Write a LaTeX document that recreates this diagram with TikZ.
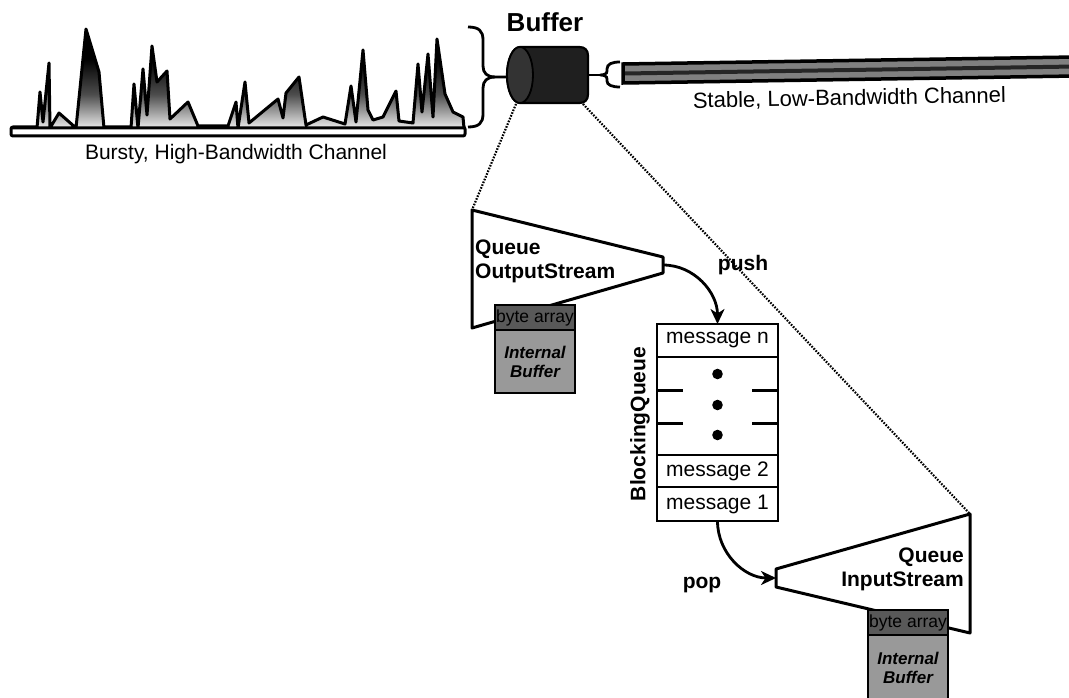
\documentclass[tikz,border=0pt]{standalone}
\usepackage{fontspec}
\setmainfont{Liberation Sans}
\usetikzlibrary{arrows.meta}
\pgfdeclareverticalshading{burst}{100bp}{color(0bp)=(black!8); color(25bp)=(black!8); color(42bp)=(black!70); color(60bp)=(black); color(100bp)=(black)}

\begin{document}
\begin{tikzpicture}[x=1pt,y=1pt,yscale=-1,xscale=1,
	outl/.style={line width=3pt, line join=round},
	dotline/.style={line width=2.2pt, dash pattern=on 1.6pt off 1.4pt},
	flow/.style={line width=2.8pt, -{Stealth[length=15pt,width=14pt,inset=4.5pt]}},
	txt/.style={inner sep=0pt, outer sep=0pt, font=\fontsize{21}{24}\selectfont},
	btxt/.style={inner sep=0pt, font=\fontsize{21}{24}\selectfont\bfseries},
	cell/.style={txt, draw, line width=2.8pt, minimum width=121pt, minimum height=33pt},
	arr/.style={fill=black!65, draw=black, line width=2.6pt, inner sep=0pt, outer sep=0pt, minimum width=80pt, minimum height=25pt, font=\fontsize{17.5}{19}\selectfont},
	buf/.style={fill=black!40, draw=black, line width=2.6pt, inner sep=0pt, outer sep=0pt, minimum width=80pt, align=center, font=\fontsize{17}{19}\selectfont\bfseries\itshape}]
	\useasboundingbox (0,0) rectangle (1069,698);
	\clip (0,0) rectangle (1069,698);
	
	%Shape: Bursty channel base
	\draw[outl, rounded corners=2pt] (11,127) rectangle (465,136);
	%Shape: Bursty channel traffic
	\draw[outl, shade, shading=burst] (12,128) -- (37,128) -- (40,92) -- (43,122) -- (49,63) -- (50,128) -- (59,113) -- (76,128) -- (86,29) -- (99,72) -- (104,128) -- (131,128) -- (134,84) -- (138,128) -- (143,69) -- (147,115) -- (152,46) -- (157,82) -- (167,71) -- (170,119) -- (188,102) -- (198,126) -- (228,126) -- (236,102) -- (238,128) -- (245,82) -- (249,123) -- (278,99) -- (283,118) -- (286,93) -- (299,77) -- (306,125) -- (323,117) -- (345,124) -- (351,86) -- (356,122) -- (363,50) -- (368,110) -- (373,120) -- (383,117) -- (396,91) -- (399,121) -- (413,123) -- (418,64) -- (422,112) -- (428,54) -- (433,117) -- (437,39) -- (445,94) -- (453,112) -- (463,117) -- (464,128) -- cycle;
	
	%Shape: Brace into buffer
	\draw[line width=2.8pt] (468,27) .. controls (479,27) and (483,31) .. (483,40) -- (483,66) .. controls (483,73) and (487,77) .. (495,77) -- (508,77);
	\draw[line width=2.8pt] (495,77) .. controls (487,77) and (483,81) .. (483,88) -- (483,114) .. controls (483,123) and (479,127) .. (468,127);
	
	%Shape: Buffer cylinder
	\filldraw[fill=black!88, line width=2.2pt] (520,47) -- (579,47) .. controls (585,47) and (588,50) .. (588,56) -- (588,94) .. controls (588,100) and (585,103) .. (579,103) -- (520,103) arc[start angle=90, end angle=270, x radius=13, y radius=28] -- cycle;
	\draw[fill=black!80, line width=1.8pt] (520,75) ellipse [x radius=13, y radius=28];
	\coordinate (cylbl) at (516,104);
	\coordinate (cylbr) at (583,104);
	
	%Shape: Brace out of buffer
	\draw[line width=2.8pt] (588,75) -- (600,75);
	\draw[line width=2.8pt] (620,62) .. controls (612,62) and (607,64) .. (607,69) -- (607,71) .. controls (607,74) and (604,75) .. (600,75) .. controls (604,75) and (607,76) .. (607,79) -- (607,81) .. controls (607,85) and (612,87) .. (620,87);
	
	%Shape: Stable channel
	\filldraw[fill=black!50, line width=3.5pt] (623,64) -- (1075,57) -- (1075,76) -- (623,83) -- cycle;
	\draw[black!85, line width=4pt] (625,73.5) -- (1075,66.5);
	
	% Text Node
	\node[btxt, font=\fontsize{26}{30}\selectfont\bfseries] (buflabel) at (545,22) {Buffer};
	% Text Node
	\node[txt] (burstylabel) at (236,154) {Bursty, High-Bandwidth Channel};
	% Text Node
	\node[txt, rotate=1, anchor=east, font=\fontsize{22}{25}\selectfont] (stablelabel) at (1006,96) {Stable, Low-Bandwidth Channel};
	
	%Straight Lines: zoom onto the buffer
	\coordinate (ostl) at (472,210);
	\coordinate (istr) at (970,514);
	\draw[dotline] (cylbl) -- (ostl);
	\draw[dotline] (cylbr) -- (istr);
	
	%Shape: QueueOutputStream
	\draw[outl, fill=white] (ostl) -- (663,257) -- (663,273) -- (472,328) -- cycle;
	\coordinate (ostip) at (663,265);
	% Text Node
	\node[btxt, anchor=west, align=left] (oslabel) at (475,261) {Queue\\OutputStream};
	\node[arr] (osba) at (535,317.5) {byte array};
	\node[buf, minimum height=63pt, anchor=north] (osib) at (osba.south) {Internal\\Buffer};
	
	%Shape: BlockingQueue
	\node[cell] (msgn) at (717.5,340.5) {message n};
	\node[cell, minimum height=98pt] (qgap) at (717.5,406) {};
	\node[cell, minimum height=32pt] (msg2) at (717.5,471) {message 2};
	\node[cell, minimum height=34pt] (msg1) at (717.5,504) {message 1};
	\foreach \y in {374,405,435} {
		\fill (717.5,\y) circle (5.3);
	}
	\foreach \y in {390,423} {
		\draw[outl] (657,\y) -- (683,\y);
		\draw[outl] (752,\y) -- (778,\y);
	}
	% Text Node
	\node[btxt, rotate=90] (bqlabel) at (640,424) {BlockingQueue};
	
	%Shape: QueueInputStream
	\draw[outl, fill=white] (776,569) -- (istr) -- (970,633) -- (776,587) -- cycle;
	\coordinate (istip) at (776,578);
	% Text Node
	\node[btxt, anchor=east, align=right] (islabel) at (964,569) {Queue\\InputStream};
	\node[arr] (isba) at (908,622.5) {byte array};
	\node[buf, minimum height=66pt, anchor=north] (isib) at (isba.south) {Internal\\Buffer};
	
	%Curve Lines: push and pop (y axis is flipped, so 90 points down)
	\draw[flow] (ostip) to[out=0, in=-90] (msgn.north);
	\draw[flow] (msg1.south) to[out=90, in=180] (istip);
	% Text Node
	\node[btxt] (pushlabel) at (743,265) {push};
	% Text Node
	\node[btxt] (poplabel) at (702,585) {pop};
\end{tikzpicture}
\end{document}
